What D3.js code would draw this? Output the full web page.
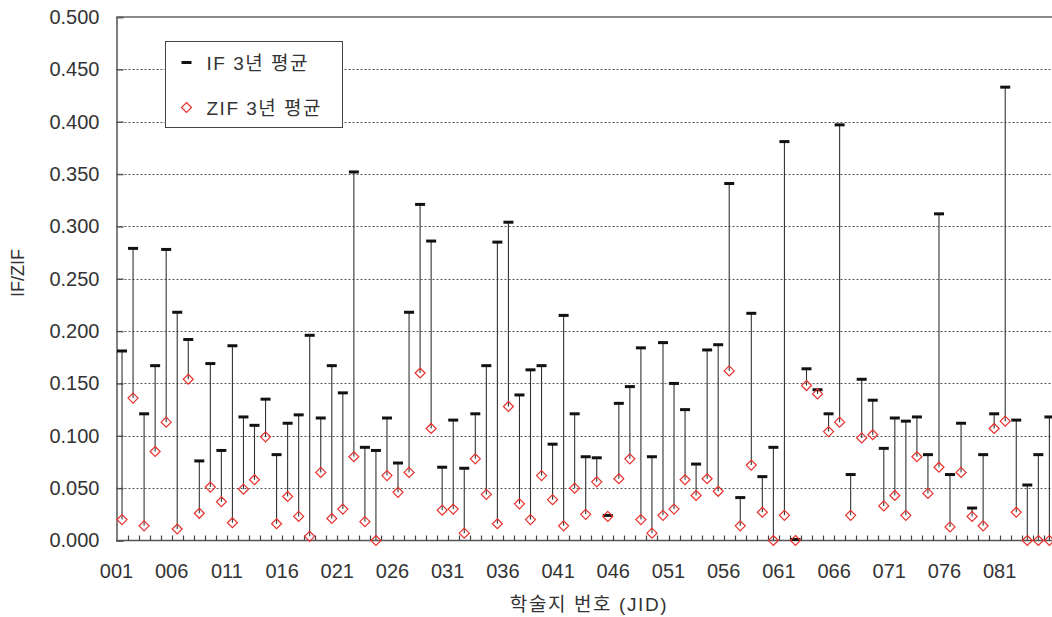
<!DOCTYPE html>
<html>
<head>
<meta charset="utf-8">
<script src="https://cdn.jsdelivr.net/npm/d3@7"></script>
<style>
  body { margin: 0; background: #fff; }
  text { font-family: "Liberation Sans", "Noto Sans CJK KR", sans-serif; fill: #333; }
</style>
</head>
<body>
<div id="chart"></div>
<script>
// journal ids 001..085
const jids = d3.range(1, 86).map(d => String(d).padStart(3, "0"));

const ifAvg = [
  0.181, 0.279, 0.121, 0.167, 0.278, 0.218, 0.192, 0.076, 0.169, 0.086,
  0.186, 0.118, 0.110, 0.135, 0.082, 0.112, 0.120, 0.196, 0.117, 0.167,
  0.141, 0.352, 0.089, 0.086, 0.117, 0.074, 0.218, 0.321, 0.286, 0.070,
  0.115, 0.069, 0.121, 0.167, 0.285, 0.304, 0.139, 0.163, 0.167, 0.092,
  0.215, 0.121, 0.080, 0.079, 0.024, 0.131, 0.147, 0.184, 0.080, 0.189,
  0.150, 0.125, 0.073, 0.182, 0.187, 0.341, 0.041, 0.217, 0.061, 0.089,
  0.381, 0.001, 0.164, 0.144, 0.121, 0.397, 0.063, 0.154, 0.134, 0.088,
  0.117, 0.114, 0.118, 0.082, 0.312, 0.063, 0.112, 0.031, 0.082, 0.121,
  0.433, 0.115, 0.053, 0.082, 0.118
];

const zifAvg = [
  0.020, 0.136, 0.014, 0.085, 0.113, 0.011, 0.154, 0.026, 0.051, 0.037,
  0.017, 0.049, 0.058, 0.099, 0.016, 0.042, 0.023, 0.004, 0.065, 0.021,
  0.030, 0.080, 0.018, 0.000, 0.062, 0.046, 0.065, 0.160, 0.107, 0.029,
  0.030, 0.007, 0.078, 0.044, 0.016, 0.128, 0.035, 0.020, 0.062, 0.039,
  0.014, 0.050, 0.025, 0.056, 0.023, 0.059, 0.078, 0.020, 0.007, 0.024,
  0.030, 0.058, 0.043, 0.059, 0.047, 0.162, 0.014, 0.072, 0.027, 0.000,
  0.024, 0.000, 0.148, 0.140, 0.104, 0.113, 0.024, 0.098, 0.101, 0.033,
  0.043, 0.024, 0.080, 0.045, 0.070, 0.013, 0.065, 0.023, 0.014, 0.107,
  0.114, 0.027, 0.000, 0.000, 0.000
];

const yTicks = [0, 0.05, 0.1, 0.15, 0.2, 0.25, 0.3, 0.35, 0.4, 0.45, 0.5];
const seriesNames = ["IF 3년 평균", "ZIF 3년 평균"];
const xTitle = "학술지 번호 (JID)";
const yTitle = "IF/ZIF";

let width = 1052, height = 617;
let plotLeft = 116.5, plotTop = 17, plotBottom = 540.5, bandW = 11.04;

let data = jids.map((d, i) => ({ jid: d, ifv: ifAvg[i], zif: zifAvg[i] }));

let x = d3.scaleBand()
  .domain(jids)
  .range([plotLeft, plotLeft + bandW * jids.length])
  .padding(0);

let y = d3.scaleLinear()
  .domain([0, 0.5])
  .range([plotBottom, plotTop]);

let svg = d3.select("#chart").append("svg")
  .attr("width", width)
  .attr("height", height);

// gridlines
svg.append("g")
  .selectAll("line")
  .data(yTicks.filter(d => d > 0 && d < 0.5))
  .enter().append("line")
  .attr("x1", plotLeft)
  .attr("x2", width)
  .attr("y1", d => Math.round(y(d)) + 0.5)
  .attr("y2", d => Math.round(y(d)) + 0.5)
  .attr("stroke", "#555")
  .attr("stroke-dasharray", "2,2");

// y axis with inner ticks
let yAxis = svg.append("g")
  .attr("transform", "translate(" + plotLeft + ",0)")
  .call(d3.axisLeft(y).tickValues(yTicks).tickSize(-7).tickPadding(17).tickFormat(d3.format(".3f")));
yAxis.select(".domain").attr("stroke", "#555").attr("stroke-width", 1.5);
yAxis.selectAll(".tick line").attr("stroke", "#555").attr("stroke-width", 1.5);
yAxis.selectAll("text").style("font-size", "20px").attr("fill", "#333");

// top border and bottom axis line
svg.append("line")
  .attr("x1", plotLeft).attr("x2", width)
  .attr("y1", plotTop).attr("y2", plotTop)
  .attr("stroke", "#666").attr("stroke-width", 1.5);

svg.append("line")
  .attr("x1", plotLeft).attr("x2", width)
  .attr("y1", plotBottom).attr("y2", plotBottom)
  .attr("stroke", "#555").attr("stroke-width", 1.5);

// x ticks at band boundaries, pointing inwards
svg.append("g")
  .selectAll("line")
  .data(jids.slice(1))
  .enter().append("line")
  .attr("x1", d => Math.round(x(d)) + 0.5)
  .attr("x2", d => Math.round(x(d)) + 0.5)
  .attr("y1", plotBottom)
  .attr("y2", plotBottom - 5)
  .attr("stroke", "#444")
  .attr("stroke-width", 1.2);

// x labels every 5th journal, placed at the band start
svg.append("g")
  .selectAll("text")
  .data(jids.filter((d, i) => i % 5 == 0))
  .enter().append("text")
  .attr("x", d => x(d))
  .attr("y", 578)
  .attr("text-anchor", "middle")
  .style("font-size", "20px")
  .text(d => d);

// IF -> ZIF drop lines
svg.append("g")
  .selectAll("line")
  .data(data)
  .enter().append("line")
  .attr("x1", d => x(d.jid) + x.bandwidth() / 2)
  .attr("x2", d => x(d.jid) + x.bandwidth() / 2)
  .attr("y1", d => y(d.ifv))
  .attr("y2", d => y(d.zif))
  .attr("stroke", "#333")
  .attr("stroke-width", 1.1);

// IF markers (short dash)
svg.append("g")
  .selectAll("line")
  .data(data)
  .enter().append("line")
  .attr("x1", d => x(d.jid) + x.bandwidth() / 2 - 5)
  .attr("x2", d => x(d.jid) + x.bandwidth() / 2 + 5)
  .attr("y1", d => y(d.ifv))
  .attr("y2", d => y(d.ifv))
  .attr("stroke", "#111")
  .attr("stroke-width", 3);

// ZIF markers (diamond)
let diamond = "M0,-5L5,0L0,5L-5,0Z";
svg.append("g")
  .selectAll("path")
  .data(data)
  .enter().append("path")
  .attr("d", diamond)
  .attr("transform", d => "translate(" + (x(d.jid) + x.bandwidth() / 2) + "," + y(d.zif) + ")")
  .attr("fill", "none")
  .attr("stroke", "#e8302c")
  .attr("stroke-width", 1.2);

// legend
let legend = svg.append("g").attr("transform", "translate(165.5,41.5)");
legend.append("rect")
  .attr("width", 177)
  .attr("height", 86)
  .attr("fill", "#fff")
  .attr("stroke", "#444");
legend.append("line")
  .attr("x1", 16).attr("x2", 26)
  .attr("y1", 21).attr("y2", 21)
  .attr("stroke", "#111").attr("stroke-width", 3);
legend.append("path")
  .attr("d", diamond)
  .attr("transform", "translate(21,66)")
  .attr("fill", "none")
  .attr("stroke", "#e8302c")
  .attr("stroke-width", 1.2);
legend.selectAll(".lbl")
  .data(seriesNames)
  .enter().append("text")
  .attr("class", "lbl")
  .attr("x", 41)
  .attr("y", (d, i) => 28 + i * 45)
  .style("font-size", "19px")
  .style("letter-spacing", "1.5px")
  .text(d => d);

// axis titles
svg.append("text")
  .attr("x", 589)
  .attr("y", 611)
  .attr("text-anchor", "middle")
  .style("font-size", "19px")
  .style("letter-spacing", "1.6px")
  .text(xTitle);

svg.append("text")
  .attr("transform", "translate(24,273) rotate(-90)")
  .attr("text-anchor", "middle")
  .style("font-size", "18px")
  .text(yTitle);
</script>
</body>
</html>
